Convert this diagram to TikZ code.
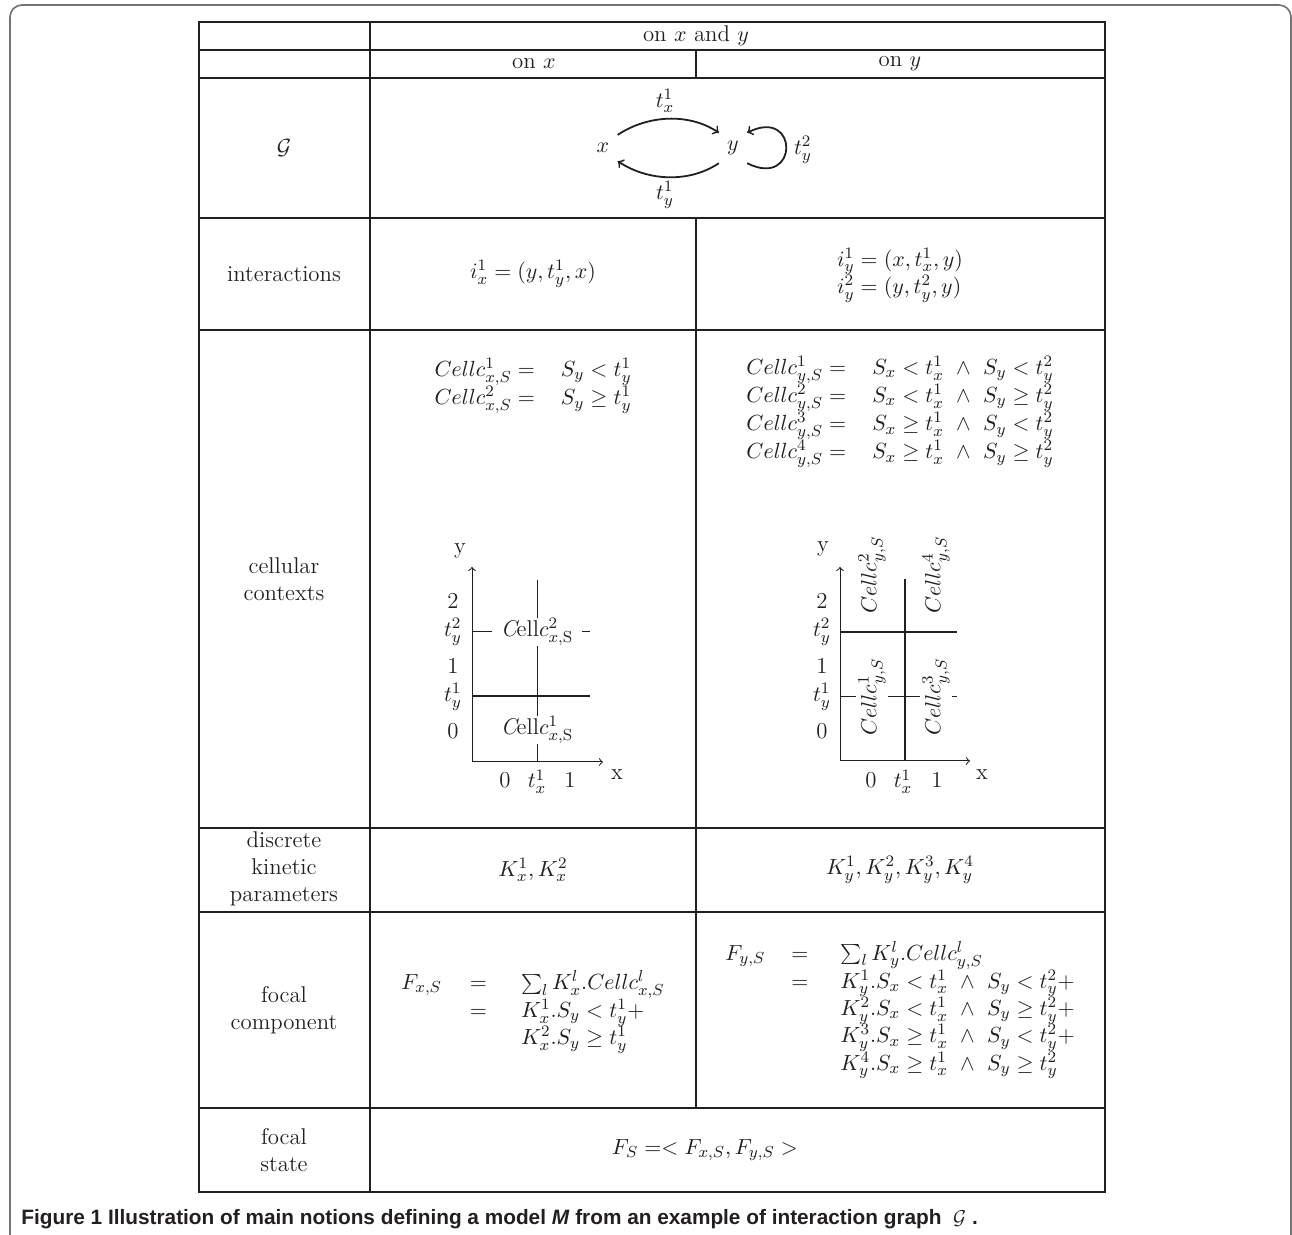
\documentclass[tikz,border=0pt]{standalone}
\usepackage{fontspec}
\newfontfamily\capfont{Liberation Sans}
\definecolor{ink}{RGB}{35,31,32}
\begin{document}
\begin{tikzpicture}[x=0.5pt,y=-0.5pt,
  every node/.style={font=\fontsize{11.4}{13.4}\selectfont, text=ink},
  gridline/.style={line width=1.4pt, draw=ink},
  framebox/.style={line width=0.8pt, draw=black!55, rounded corners=6pt},
  gnode/.style={inner sep=4pt},
  garrow/.style={line width=0.9pt, draw=ink, ->},
  axisline/.style={line width=0.5pt, draw=ink, ->},
  heavyline/.style={line width=1.4pt, draw=ink},
  thinline/.style={line width=0.5pt, draw=ink},
  cellx/.style={fill=white, inner xsep=4.5pt, inner ysep=0pt},
  celly/.style={fill=white, rotate=90, inner xsep=0pt, inner ysep=1pt},
  eq/.style={inner sep=0pt},
  lbl/.style={align=center, inner sep=0pt}]
\useasboundingbox (0,0) rectangle (1292,1235);
% outer frame
\draw[framebox] (10,1245) -- (10,5) -- (1291,5) -- (1291,1245);
% table grid
\draw[gridline] (199,22) rectangle (1105,1192);
\foreach \yy in {50,78,218,330,828,912,1108}
  \draw[gridline] (199,\yy) -- (1105,\yy);
\draw[gridline] (370,22) -- (370,1192);
\draw[gridline] (696,50) -- (696,78);
\draw[gridline] (696,218) -- (696,1108);
% headers
\node (hxy) at (696,36) {on $x$ and $y$};
\node (hx) at (534,64) {on $x$};
\node (hy) at (900,64) {on $y$};
% graph row
\node (lG) at (284,148) {$\mathcal{G}$};
\node[gnode] (gx) at (603,148) {$x$};
\node[gnode] (gy) at (733,148) {$y$};
\draw[garrow] (gx.north east) .. controls +(30,-20) and +(-30,-20) .. (gy.north west);
\draw[garrow] (gy.south west) .. controls +(-30,20) and +(30,20) .. (gx.south east);
\draw[garrow] (gy.south east) .. controls +(52,26) and +(52,-26) .. (gy.north east);
\node (ltx) at (665,101) {$t^1_x$};
\node (lty) at (665,195) {$t^1_y$};
\node (lty2) at (803,150) {$t^2_y$};
% interactions
\node[lbl] (lint) at (284,274) {interactions};
\node (ix) at (533,274) {$i^1_x = (y, t^1_y, x)$};
\node[eq] (iy) at (900,275) {$\begin{array}{@{}l@{}} i^1_y = (x, t^1_x, y)\\ i^2_y = (y, t^2_y, y)\end{array}$};
% cellular contexts
\node[lbl] (lcc) at (284,579) {cellular\\contexts};
\node[eq] (ccx) at (533,386) {$\begin{array}{@{}r@{\hspace{13pt}}l@{}} Cellc^1_{x,S} = & S_y < t^1_y\\ Cellc^2_{x,S} = & S_y \geq t^1_y\end{array}$};
\node[eq] (ccy) at (900,412) {$\begin{array}{@{}r@{\hspace{13pt}}l@{}} Cellc^1_{y,S} = & S_x < t^1_x \ \wedge\ S_y < t^2_y\\ Cellc^2_{y,S} = & S_x < t^1_x \ \wedge\ S_y \geq t^2_y\\ Cellc^3_{y,S} = & S_x \geq t^1_x \ \wedge\ S_y < t^2_y\\ Cellc^4_{y,S} = & S_x \geq t^1_x \ \wedge\ S_y \geq t^2_y\end{array}$};
% left chart
\draw[thinline] (537,580) -- (537,762);
\draw[thinline] (472,632) -- (590,632);
\draw[heavyline] (472,696) -- (590,696);
\draw[axisline] (472,762) -- (603,762);
\draw[axisline] (472,762) -- (472,567);
\node[cellx] (c2x) at (537,632) {{\itshape C}ell$c^{2}_{x,\mathrm{S}}$};
\node[cellx] (c1x) at (537,730) {{\itshape C}ell$c^{1}_{x,\mathrm{S}}$};
\node (ayl) at (460,551) {y};
\node (axl) at (617,775) {x};
\node (ly2) at (453,601) {2};
\node (lyt2) at (453,632) {$t^2_y$};
\node (ly1) at (453,666) {1};
\node (lyt1) at (453,697) {$t^1_y$};
\node (ly0) at (453,731) {0};
\node[anchor=base] (lx0) at (505,788) {0};
\node[anchor=base] (lxt) at (537,788) {$t^1_x$};
\node[anchor=base] (lx1) at (570,788) {1};
% right chart
\draw[thinline] (840,697) -- (957,697);
\draw[heavyline] (905,579) -- (905,761);
\draw[heavyline] (840,632) -- (957,632);
\draw[axisline] (840,761) -- (970,761);
\draw[axisline] (840,761) -- (840,567);
\node[celly] (c1y) at (872,697) {$Cellc^1_{y,S}$};
\node[celly] (c2y) at (872,575) {$Cellc^2_{y,S}$};
\node[celly] (c3y) at (936,697) {$Cellc^3_{y,S}$};
\node[celly] (c4y) at (936,575) {$Cellc^4_{y,S}$};
\node (ayr) at (823,549) {y};
\node (axr) at (982,775) {x};
\node (ry2) at (822,601) {2};
\node (ryt2) at (822,632) {$t^2_y$};
\node (ry1) at (822,666) {1};
\node (ryt1) at (822,697) {$t^1_y$};
\node (ry0) at (822,731) {0};
\node[anchor=base] (rx0) at (871,788) {0};
\node[anchor=base] (rxt) at (903,788) {$t^1_x$};
\node[anchor=base] (rx1) at (937,788) {1};
% discrete kinetic parameters
\node[lbl] (ldk) at (284,869) {discrete\\kinetic\\parameters};
\node (kx) at (533,870) {$K^1_x, K^2_x$};
\node (ky) at (900,870) {$K^1_y, K^2_y, K^3_y, K^4_y$};
% focal component
\node[lbl] (lfc) at (284,1010) {focal\\component};
\node[eq] (fx) at (533,1012) {$\begin{array}{@{}r@{\hspace{14pt}}c@{\hspace{17pt}}l@{}} F_{x,S} & = & \sum_l K^l_x.Cellc^l_{x,S}\\ & = & K^1_x.S_y < t^1_y+\\ & & K^2_x.S_y \geq t^1_y\end{array}$};
\node[eq] (fy) at (900,1010) {$\begin{array}{@{}r@{\hspace{13pt}}c@{\hspace{16pt}}l@{}} F_{y,S} & = & \sum_l K^l_y.Cellc^l_{y,S}\\ & = & K^1_y.S_x < t^1_x \ \wedge\ S_y < t^2_y+\\ & & K^2_y.S_x < t^1_x \ \wedge\ S_y \geq t^2_y+\\ & & K^3_y.S_x \geq t^1_x \ \wedge\ S_y < t^2_y+\\ & & K^4_y.S_x \geq t^1_x \ \wedge\ S_y \geq t^2_y\end{array}$};
% focal state
\node[lbl] (lfs) at (284,1150) {focal\\state};
\node (fs) at (705,1150) {$F_S =< F_{x,S}, F_{y,S} >$};
% caption
\node[anchor=west, inner sep=0pt, font=\capfont\bfseries\fontsize{10.4}{12}\selectfont] (cap) at (21,1219) {Figure 1 Illustration of main notions defining a model \textit{M} from an example of interaction graph \ $\mathcal{G}$ .};
\end{tikzpicture}
\end{document}
